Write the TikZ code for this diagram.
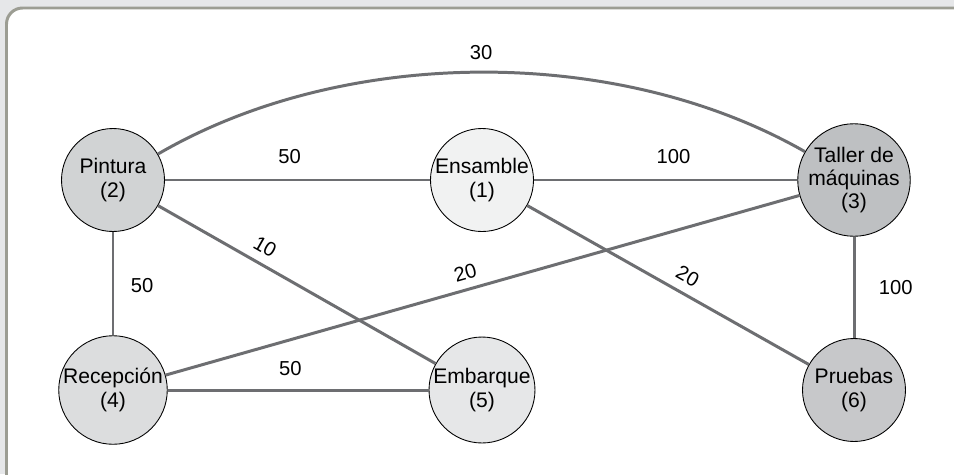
\documentclass[tikz,border=0pt]{standalone}
\usepackage{fontspec}
\setmainfont{Liberation Sans}

\definecolor{pagegray}{HTML}{E6E7E9}
\definecolor{framegray}{HTML}{9C9D93}
\definecolor{linkgray}{HTML}{6D6E71}

\begin{document}
\begin{tikzpicture}[
    x=0.02cm, y=-0.02cm,
    dept/.style={
        circle,
        draw=black,
        line width=0.5pt,
        minimum size=2.06cm,
        inner sep=0pt,
        align=center,
        font=\fontsize{12}{13.2}\selectfont
    },
    link/.style={draw=linkgray, line width=1.7pt},
    wt/.style={font=\fontsize{11.5}{13}\selectfont}
]

% frame
\useasboundingbox (0,0) rectangle (954,474);
\clip (0,0) rectangle (954,474);
\fill[pagegray] (0,0) rectangle (954,474);
\fill[white, rounded corners=0.32cm] (6.5,8) rectangle (980,500);
\draw[framegray, line width=1.7pt, rounded corners=0.32cm] (6.5,500) |- (980,8);

% departments
\node[dept, fill={rgb,255:red,241;green,242;blue,242}] (ens)  at (482,180) {Ensamble\\(1)};
\node[dept, fill={rgb,255:red,209;green,211;blue,212}] (pint) at (113,180) {Pintura\\(2)};
\node[dept, fill={rgb,255:red,190;green,192;blue,194}] (tall) at (854,180) {Taller de\\máquinas\\(3)};
\node[dept, fill={rgb,255:red,220;green,221;blue,222}] (rec)  at (113,390) {Recepción\\(4)};
\node[dept, fill={rgb,255:red,230;green,231;blue,232}] (emb)  at (482,390) {Embarque\\(5)};
\node[dept, fill={rgb,255:red,199;green,200;blue,202}] (prue) at (854,390) {Pruebas\\(6)};

% flows
\draw[link] (pint) to[bend left=30, looseness=0.85] node[wt, above=3pt] {30} (tall);
\draw[link] (pint) -- node[wt, pos=0.47, above=5pt] {50} (ens);
\draw[link] (ens) -- node[wt, pos=0.53, above=5pt] {100} (tall);
\draw[link] (pint) -- node[wt, pos=0.52, right=6pt] {50} (rec);
\draw[link] (tall) -- node[wt, pos=0.5, right=10pt] {100} (prue);
\draw[link] (rec) -- node[wt, pos=0.47, above=4pt] {50} (emb);
\draw[link] (pint) -- node[wt, pos=0.355, above=1.5pt, sloped] {10} (emb);
\draw[link] (rec) -- node[wt, pos=0.48, above=1.5pt, sloped] {20} (tall);
\draw[link] (ens) -- node[wt, pos=0.54, above=1.5pt, sloped] {20} (prue);

\end{tikzpicture}
\end{document}
